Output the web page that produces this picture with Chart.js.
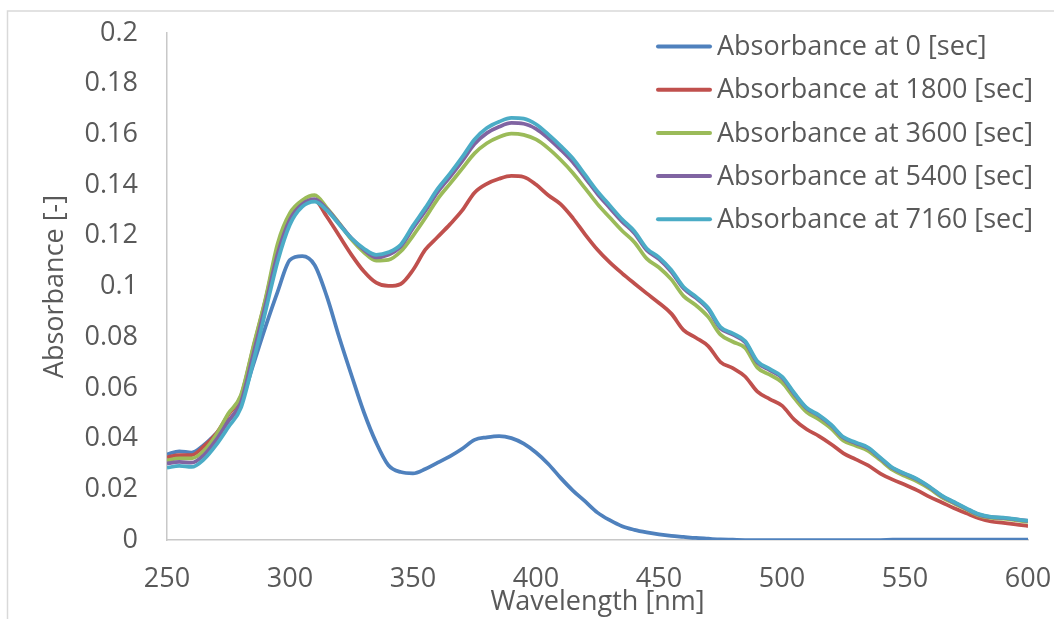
<!DOCTYPE html>
<html>
<head>
<meta charset="utf-8">
<script src="https://cdn.jsdelivr.net/npm/chart.js@4/dist/chart.umd.min.js"></script>
<style>
  html, body { margin: 0; padding: 0; background: #ffffff; }
  #wrap { width: 1054px; height: 619px; position: relative; }
</style>
</head>
<body>
<div id="wrap"><canvas id="c" width="1054" height="619"></canvas></div>
<script>
const wavelengths = [250,255,260,265,270,275,280,285,290,295,300,305,310,315,320,325,330,335,340,345,350,355,360,365,370,375,380,385,390,395,400,405,410,415,420,425,430,435,440,445,450,455,460,465,470,475,480,485,490,495,500,505,510,515,520,525,530,535,540,545,550,555,560,565,570,575,580,585,590,595,600];

const abs0 = [.0338,.0350,.0345,.0375,.0420,.0470,.0540,.0690,.0840,.0980,.1105,.1120,.1085,.0960,.0800,.0650,.0505,.0385,.0295,.0268,.0263,.0280,.0305,.0330,.0360,.0395,.0405,.0410,.0402,.0380,.0345,.0300,.0245,.0195,.0152,.0108,.0078,.0054,.0040,.0030,.0022,.0016,.0012,.0008,.0005,.0002,.0001,0,0,0,0,0,0,0,0,0,0,0,0,.0001,.0001,.0001,.0001,.0001,.0001,.0001,.0001,.0001,.0001,.0001,.0001];

const abs1800 = [.0326,.0335,.0335,.0370,.0420,.0495,.0565,.0755,.0945,.1150,.1275,.1325,.1340,.1275,.1200,.1125,.1060,.1015,.1002,.1010,.1065,.1145,.1195,.1245,.1300,.1370,.1405,.1425,.1436,.1432,.1402,.1360,.1325,.1270,.1205,.1145,.1095,.1052,.1012,.0973,.0935,.0893,.0828,.0798,.0765,.0702,.0678,.0645,.0585,.0556,.0530,.0475,.0437,.0410,.0378,.0342,.0318,.0294,.0262,.0238,.0218,.0196,.0170,.0148,.0125,.0105,.0086,.0073,.0068,.0062,.0055];

const abs3600 = [.0314,.0322,.0322,.0352,.0415,.0500,.0570,.0760,.0950,.1170,.1290,.1340,.1360,.1310,.1250,.1185,.1135,.1102,.1105,.1138,.1200,.1270,.1345,.1405,.1465,.1525,.1565,.1590,.1603,.1598,.1580,.1545,.1500,.1448,.1387,.1325,.1272,.1220,.1175,.1110,.1075,.1028,.0962,.0926,.0880,.0810,.0782,.0758,.0680,.0652,.0622,.0560,.0505,.0476,.0440,.0392,.0372,.0352,.0315,.0276,.0252,.0230,.0202,.0168,.0144,.0120,.0097,.0087,.0084,.0078,.0071];

const abs5400 = [.0302,.0308,.0305,.0335,.0395,.0470,.0542,.0730,.0925,.1130,.1265,.1325,.1345,.1305,.1248,.1190,.1145,.1115,.1125,.1158,.1230,.1298,.1372,.1432,.1495,.1562,.1605,.1630,.1645,.1642,.1622,.1585,.1540,.1490,.1428,.1365,.1310,.1256,.1210,.1143,.1108,.1058,.0992,.0955,.0910,.0835,.0810,.0780,.0700,.0670,.0640,.0576,.0519,.0490,.0452,.0403,.0382,.0362,.0322,.0283,.0260,.0238,.0208,.0173,.0148,.0123,.0100,.0090,.0087,.0081,.0075];

const abs7160 = [.0285,.0292,.0288,.0318,.0375,.0446,.0520,.0700,.0900,.1100,.1245,.1315,.1335,.1300,.1245,.1190,.1150,.1125,.1135,.1165,.1240,.1310,.1385,.1445,.1510,.1580,.1625,.1650,.1665,.1662,.1640,.1600,.1555,.1505,.1440,.1375,.1320,.1265,.1218,.1150,.1115,.1065,.0998,.0960,.0915,.0840,.0815,.0785,.0705,.0675,.0645,.0580,.0522,.0493,.0455,.0406,.0385,.0365,.0325,.0285,.0262,.0240,.0210,.0175,.0150,.0125,.0102,.0091,.0088,.0082,.0076];

const seriesNames = ['Absorbance at 0 [sec]','Absorbance at 1800 [sec]','Absorbance at 3600 [sec]','Absorbance at 5400 [sec]','Absorbance at 7160 [sec]'];
const seriesValues = [abs0, abs1800, abs3600, abs5400, abs7160];
const seriesColors = ['#4F81BD','#C0504D','#9BBB59','#8064A2','#4BACC6'];

const xTicks = [250,300,350,400,450,500,550,600];
const yTicks = [0,0.02,0.04,0.06,0.08,0.1,0.12,0.14,0.16,0.18,0.2];

const FONT = "'Open Sans', sans-serif";
const TEXT = '#595959';
const FS = 27;

Chart.defaults.font.family = FONT;
Chart.defaults.color = TEXT;

const datasets = seriesValues.map((vals, i) => ({
  label: seriesNames[i],
  data: wavelengths.map((w, j) => ({ x: w, y: vals[j] })),
  borderColor: seriesColors[i],
  backgroundColor: seriesColors[i],
  borderWidth: 3.75,
  pointRadius: 0,
  cubicInterpolationMode: 'monotone',
  fill: false,
  order: seriesValues.length - i
}));

const bgPlugin = {
  id: 'bg',
  beforeDraw(chart) {
    const ctx = chart.ctx;
    ctx.save();
    ctx.fillStyle = '#ffffff';
    ctx.fillRect(0, 0, chart.width, chart.height);
    ctx.strokeStyle = '#d9d9d9';
    ctx.lineWidth = 1.5;
    ctx.strokeRect(7.5, 11, chart.width + 20, chart.height + 20);
    ctx.restore();
  }
};

const legendPlugin = {
  id: 'customLegend',
  afterDraw(chart) {
    const ctx = chart.ctx;
    const area = chart.chartArea;
    const x0 = area.right - 370;
    const y0 = area.top + 13.5;
    const step = 43.2;
    ctx.save();
    ctx.font = FS + "px " + FONT;
    ctx.textBaseline = 'middle';
    ctx.textAlign = 'left';
    seriesNames.forEach((name, i) => {
      const y = y0 + i * step;
      ctx.strokeStyle = seriesColors[i];
      ctx.lineWidth = 4;
      ctx.lineCap = 'round';
      ctx.beginPath();
      ctx.moveTo(x0, y);
      ctx.lineTo(x0 + 52, y);
      ctx.stroke();
      ctx.fillStyle = TEXT;
      ctx.fillText(name, x0 + 59, y + 1);
    });
    ctx.restore();
  }
};

new Chart(document.getElementById('c'), {
  type: 'line',
  data: { datasets },
  plugins: [bgPlugin, legendPlugin],
  options: {
    responsive: false,
    animation: false,
    layout: { padding: { left: 0, right: 26, top: 33, bottom: 0 } },
    plugins: { legend: { display: false }, tooltip: { enabled: false } },
    scales: {
      x: {
        type: 'linear',
        min: 250, max: 600,
        afterBuildTicks: (s) => { s.ticks = xTicks.map(v => ({ value: v })); },
        afterFit: (s) => { s.height = 79; },
        grid: { display: true, drawOnChartArea: false, drawTicks: true, tickLength: 23, tickColor: 'rgba(0,0,0,0)' },
        border: { display: true, color: '#c8c8c8', width: 1.5 },
        ticks: { font: { size: FS }, color: TEXT, padding: 0, maxRotation: 0, autoSkip: false },
        title: { display: true, text: 'Wavelength [nm]', font: { size: FS }, color: TEXT, padding: { top: 0, bottom: 0 } }
      },
      y: {
        min: 0, max: 0.2,
        afterBuildTicks: (s) => { s.ticks = yTicks.map(v => ({ value: v })); },
        afterFit: (s) => { s.width = 167; },
        grid: { display: true, drawOnChartArea: false, drawTicks: true, tickLength: 29, tickColor: 'rgba(0,0,0,0)' },
        border: { display: true, color: '#c8c8c8', width: 1.5 },
        ticks: { font: { size: FS }, color: TEXT, padding: 0, callback: (v) => String(+(+v).toFixed(2)) },
        title: { display: true, text: 'Absorbance [-]', font: { size: FS }, color: TEXT, padding: { top: 39, bottom: 0 } }
      }
    }
  }
});
</script>
</body>
</html>
